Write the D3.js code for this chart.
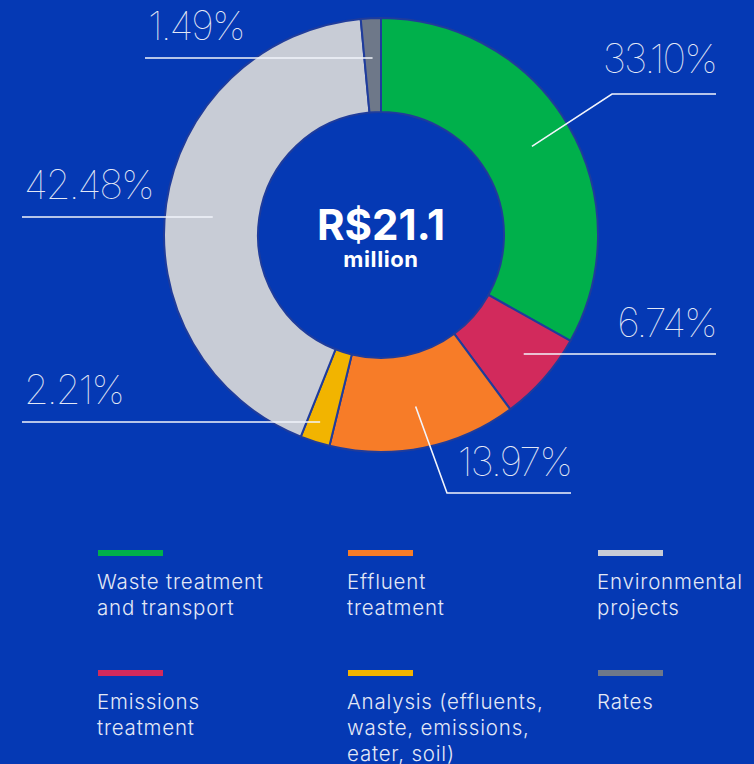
<!DOCTYPE html>
<html>
<head>
<meta charset="utf-8">
<script src="https://cdn.jsdelivr.net/npm/d3@7"></script>
<style>
  html, body { margin: 0; padding: 0; background: #0539b4; }
  svg { display: block; font-family: Inter, "Noto Sans", sans-serif; }
</style>
</head>
<body>
<svg id="chart" width="754" height="764"></svg>
<script>
// data
var categories = ["Waste treatment and transport", "Emissions treatment", "Effluent treatment",
                  "Analysis (effluents, waste, emissions, eater, soil)", "Environmental projects", "Rates"];
var shares = [33.10, 6.74, 13.97, 2.21, 42.48, 1.49];
var sliceColors = ["#00b04b", "#d22a5c", "#f77c28", "#f2b400", "#c8ccd6", "#6e7889"];
var totalLabel = "R$21.1";
var totalUnit = "million";

// legend order (3 columns x 2 rows)
var legendOrder = [0, 2, 4, 1, 3, 5];
var legendLines = [
  ["Waste treatment", "and transport"],
  ["Effluent", "treatment"],
  ["Environmental", "projects"],
  ["Emissions", "treatment"],
  ["Analysis (effluents,", "waste, emissions,", "eater, soil)"],
  ["Rates"]
];

// label layout (callout lines), one per slice
var labelLayout = [
  { r: 175, elbowX: 612, lineY: 94,  endX: 716, textX: 716, textY: 73,  anchor: "end" },
  { r: 190, lineY: 354, endX: 716, textX: 716, textY: 337, anchor: "end" },
  { r: 175, elbowX: 447, lineY: 493, endX: 571, textX: 571, textY: 476, anchor: "end" },
  { r: 200, lineY: 422, endX: 22,  textX: 24,  textY: 404, anchor: "start" },
  { r: 170, lineY: 217, endX: 22,  textX: 24,  textY: 199, anchor: "start" },
  { r: 180, lineY: 58,  endX: 145, textX: 148, textY: 40,  anchor: "start" }
];

var svg = d3.select("#chart");
var cx = 381, cy = 235;
var outerR = 217, innerR = 123;
var txtColor = "#e3e8f6";

var pie = d3.pie().sort(null).value(function(d) { return d; });
var arcs = pie(shares);
var arc = d3.arc().innerRadius(innerR).outerRadius(outerR);

var g = svg.append("g").attr("transform", "translate(" + cx + "," + cy + ")");

g.selectAll("path.slice")
  .data(arcs)
  .enter().append("path")
  .attr("class", "slice")
  .attr("d", arc)
  .attr("fill", function(d, i) { return sliceColors[i]; })
  .attr("stroke", "#1f3c9c")
  .attr("stroke-width", 2);

// center text
g.append("text")
  .attr("text-anchor", "middle")
  .attr("y", 5)
  .attr("fill", "#ffffff")
  .attr("font-weight", 700)
  .attr("font-size", 42)
  .attr("letter-spacing", 0)
  .text(totalLabel);
g.append("text")
  .attr("text-anchor", "middle")
  .attr("y", 32)
  .attr("fill", "#ffffff")
  .attr("font-weight", 700)
  .attr("font-size", 22)
  .attr("letter-spacing", 0.6)
  .text(totalUnit);

// callouts
var callouts = svg.append("g");
arcs.forEach(function(d, i) {
  var L = labelLayout[i];
  var mid = (d.startAngle + d.endAngle) / 2;
  var sx = cx + Math.sin(mid) * L.r;
  var sy = cy - Math.cos(mid) * L.r;
  var pts;
  if (L.elbowX != null) {
    pts = [[sx, sy], [L.elbowX, L.lineY], [L.endX, L.lineY]];
  } else {
    pts = [[sx, L.lineY], [L.endX, L.lineY]];
  }
  callouts.append("path")
    .attr("d", d3.line()(pts))
    .attr("fill", "none")
    .attr("stroke", "#f2f4fb")
    .attr("stroke-width", 1.6);
  callouts.append("text")
    .attr("x", L.textX)
    .attr("y", L.textY)
    .attr("text-anchor", L.anchor)
    .attr("fill", txtColor)
    .attr("font-weight", 100)
    .attr("font-size", 40)
    .attr("letter-spacing", -2)
    .text(d3.format(".2f")(shares[i]) + "%");
});

// legend
var colX = d3.scalePoint().domain([0, 1, 2]).range([98, 598]);
var rowY = d3.scalePoint().domain([0, 1]).range([553, 673]);
var legend = svg.append("g");
legendOrder.forEach(function(k, j) {
  var x = colX(j % 3), y = rowY(Math.floor(j / 3));
  legend.append("rect")
    .attr("x", x).attr("y", y - 3)
    .attr("width", 65).attr("height", 6)
    .attr("fill", sliceColors[k]);
  var t = legend.append("text")
    .attr("x", x - 1).attr("y", y + 36)
    .attr("fill", txtColor)
    .attr("font-weight", 300)
    .attr("font-size", 20.5)
    .attr("letter-spacing", 0.8);
  legendLines[j].forEach(function(line, n) {
    t.append("tspan").attr("x", x - 1).attr("dy", n === 0 ? 0 : 26).text(line);
  });
});
</script>
</body>
</html>
